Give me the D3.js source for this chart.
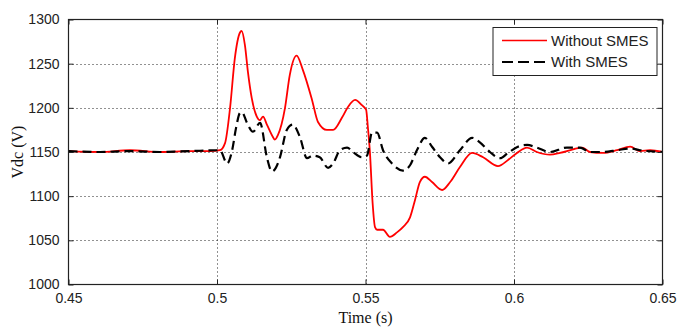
<!DOCTYPE html>
<html>
<head>
<meta charset="utf-8">
<script src="https://cdn.jsdelivr.net/npm/d3@7"></script>
<style>
  html, body { margin: 0; padding: 0; background: #fff; }
  svg { display: block; }
  .tick-label { font-family: "Liberation Sans", Arial, sans-serif; font-size: 14px; fill: #222; }
  .axis-title { font-family: "Liberation Serif", "Times New Roman", serif; font-size: 16px; fill: #111; }
  .legend-text { font-family: "Liberation Sans", Arial, sans-serif; font-size: 15px; fill: #222; }
</style>
</head>
<body>
<svg id="chart" width="694" height="328"></svg>
<script>
// DC-link voltage after the disturbance at t = 0.5 s
const xTicks = [0.45, 0.5, 0.55, 0.6, 0.65];
const yTicks = [1000, 1050, 1100, 1150, 1200, 1250, 1300];

// Without SMES: time (s)
const timeWithout = [0.450, 0.4606, 0.4707, 0.4808, 0.4909, 0.4976, 0.5010, 0.5027, 0.5044, 0.5060, 0.5077, 0.5083,
  0.5094, 0.5104, 0.5117, 0.5134, 0.5144, 0.5155, 0.5168, 0.5185, 0.5195, 0.5205, 0.5229, 0.5245, 0.5268,
  0.5289, 0.5320, 0.5340, 0.5370, 0.5391, 0.5421, 0.5441, 0.5465, 0.5488, 0.5502, 0.5508, 0.5515, 0.5524,
  0.5532, 0.5539, 0.5559, 0.5582, 0.5606, 0.5626, 0.5650, 0.5667, 0.5683, 0.5700, 0.5724, 0.5758, 0.5785,
  0.5818, 0.5859, 0.5896, 0.5946, 0.5980, 0.6010, 0.6044, 0.6077, 0.6121, 0.6155, 0.6199, 0.6229, 0.6256,
  0.6300, 0.6347, 0.6391, 0.6424, 0.6458, 0.6500];
// Without SMES: Vdc (V)
const vdcWithout = [1151, 1150, 1152, 1150, 1151, 1151, 1152, 1160, 1200, 1256, 1285, 1287,
  1271, 1241, 1211, 1190, 1186, 1190, 1181, 1169, 1164, 1169, 1200, 1237, 1259,
  1243, 1209, 1184, 1175, 1175, 1189, 1201, 1209, 1203, 1198, 1178, 1149, 1092,
  1065, 1062, 1062, 1054, 1059, 1065, 1076, 1096, 1116, 1122, 1116, 1107, 1116,
  1133, 1149, 1144, 1134, 1141, 1149, 1155, 1150, 1147, 1149, 1153, 1155, 1150,
  1149, 1152, 1156, 1151, 1152, 1150];

// With SMES: time (s)
const timeWith = [0.450, 0.4606, 0.4707, 0.4808, 0.4909, 0.5010, 0.5034, 0.5051, 0.5064, 0.5077, 0.5084,
  0.5101, 0.5121, 0.5145, 0.5168, 0.5185, 0.5198, 0.5212, 0.5235, 0.5255, 0.5279, 0.5303, 0.5323,
  0.5346, 0.5374, 0.5391, 0.5414, 0.5438, 0.5458, 0.5488, 0.5505, 0.5522, 0.5539, 0.5559, 0.5589,
  0.5626, 0.5650, 0.5673, 0.5700, 0.5724, 0.5751, 0.5778, 0.5818, 0.5859, 0.5885, 0.5919, 0.5953,
  0.5980, 0.6013, 0.6044, 0.6077, 0.6121, 0.6178, 0.6222, 0.6256, 0.6300, 0.6347, 0.6391, 0.6424, 0.6500];
// With SMES: Vdc (V)
const vdcWith = [1151, 1150, 1151, 1150, 1151, 1152, 1137, 1152, 1177, 1194, 1195,
  1183, 1173, 1183, 1144, 1128, 1132, 1144, 1175, 1181, 1167, 1143, 1146,
  1144, 1132, 1137, 1152, 1155, 1150, 1144, 1146, 1172, 1172, 1152, 1137,
  1129, 1135, 1152, 1166, 1156, 1144, 1137, 1152, 1166, 1161, 1150, 1143,
  1149, 1156, 1158, 1155, 1150, 1155, 1155, 1150, 1150, 1152, 1154, 1152, 1150];

const seriesNames = ["Without SMES", "With SMES"];

const svg = d3.select("#chart");
const plot = { left: 68.5, right: 662.5, top: 19.5, bottom: 284.5 };

const x = d3.scaleLinear().domain([0.45, 0.65]).range([plot.left, plot.right]);
const y = d3.scaleLinear().domain([1000, 1300]).range([plot.bottom, plot.top]);

// dotted grid
const grid = svg.append("g").attr("stroke", "#222").attr("stroke-width", 1)
  .attr("stroke-dasharray", "1,3");
grid.selectAll(".gx").data(xTicks.slice(1, -1)).join("line")
  .attr("x1", d => Math.round(x(d)) + 0.5).attr("x2", d => Math.round(x(d)) + 0.5)
  .attr("y1", plot.top).attr("y2", plot.bottom);
grid.selectAll(".gy").data(yTicks.slice(1, -1)).join("line")
  .attr("y1", d => Math.round(y(d)) + 0.5).attr("y2", d => Math.round(y(d)) + 0.5)
  .attr("x1", plot.left).attr("x2", plot.right);

// curves
const lineGen = d3.line().x(d => x(d[0])).y(d => y(d[1])).curve(d3.curveMonotoneX);
const ptsWithout = d3.zip(timeWithout, vdcWithout);
const ptsWith = d3.zip(timeWith, vdcWith);

svg.append("path").datum(ptsWithout).attr("d", lineGen)
  .attr("fill", "none").attr("stroke", "#ff0000").attr("stroke-width", 1.8)
  .attr("stroke-linejoin", "round");
svg.append("path").datum(ptsWith).attr("d", lineGen)
  .attr("fill", "none").attr("stroke", "#000").attr("stroke-width", 2.2)
  .attr("stroke-dasharray", "9,5");

// axes with inward ticks on all four sides
const tickLen = 5;
const axisBottom = d3.axisBottom(x).tickValues(xTicks).tickSizeInner(-tickLen).tickSizeOuter(0)
  .tickPadding(9).tickFormat(d3.format("~g"));
const axisTop = d3.axisTop(x).tickValues(xTicks).tickSizeInner(-tickLen).tickSizeOuter(0).tickFormat("");
const axisLeft = d3.axisLeft(y).tickValues(yTicks).tickSizeInner(-tickLen).tickSizeOuter(0)
  .tickPadding(9).tickFormat(d3.format("d"));
const axisRight = d3.axisRight(y).tickValues(yTicks).tickSizeInner(-tickLen).tickSizeOuter(0).tickFormat("");

function styleAxis(g) {
  g.select(".domain").remove();
  g.selectAll("line").attr("stroke", "#222");
  g.selectAll("text").attr("class", "tick-label").attr("fill", "#222");
}
svg.append("g").attr("transform", `translate(0,${plot.bottom})`).call(axisBottom).call(styleAxis);
svg.append("g").attr("transform", `translate(0,${plot.top})`).call(axisTop).call(styleAxis);
svg.append("g").attr("transform", `translate(${plot.left},0)`).call(axisLeft).call(styleAxis);
svg.append("g").attr("transform", `translate(${plot.right},0)`).call(axisRight).call(styleAxis);

// frame
svg.append("rect").attr("x", plot.left).attr("y", plot.top)
  .attr("width", plot.right - plot.left).attr("height", plot.bottom - plot.top)
  .attr("fill", "none").attr("stroke", "#222").attr("stroke-width", 1.2);

// axis titles
svg.append("text").attr("class", "axis-title")
  .attr("x", (plot.left + plot.right) / 2).attr("y", 323).attr("text-anchor", "middle")
  .text("Time (s)");
svg.append("text").attr("class", "axis-title")
  .attr("transform", `translate(23,${(plot.top + plot.bottom) / 2}) rotate(-90)`)
  .attr("text-anchor", "middle").text("Vdc (V)");

// legend
const lg = svg.append("g");
lg.append("rect").attr("x", 493).attr("y", 27.5).attr("width", 164).attr("height", 48)
  .attr("fill", "#fff").attr("stroke", "#222").attr("stroke-width", 1);
const legendItems = [
  { name: seriesNames[0], color: "#ff0000", width: 1.5, dash: null, yy: 40.5 },
  { name: seriesNames[1], color: "#000", width: 2.2, dash: "11,5", yy: 62 }
];
legendItems.forEach(it => {
  lg.append("line").attr("x1", 502).attr("x2", 547).attr("y1", it.yy).attr("y2", it.yy)
    .attr("stroke", it.color).attr("stroke-width", it.width)
    .attr("stroke-dasharray", it.dash);
  lg.append("text").attr("class", "legend-text").attr("x", 551).attr("y", it.yy)
    .attr("dy", "0.36em").text(it.name);
});
</script>
</body>
</html>
